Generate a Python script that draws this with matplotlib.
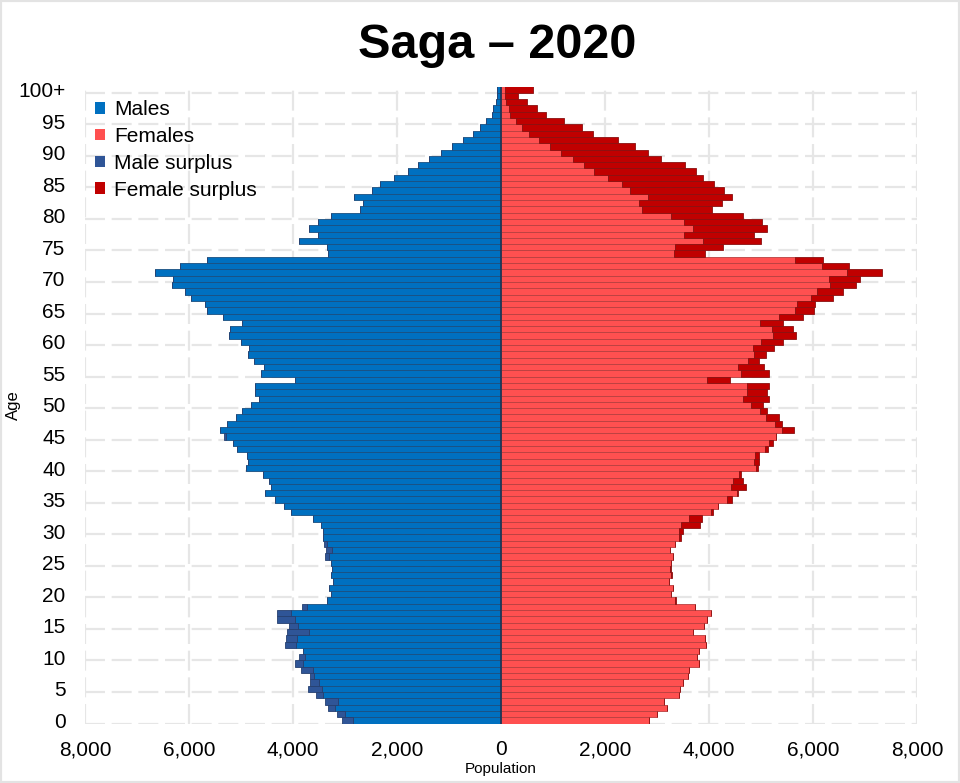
import matplotlib
matplotlib.use("Agg")
import matplotlib.pyplot as plt
from matplotlib.patches import Patch, Rectangle
import numpy as np

plt.rcParams["font.family"] = ["Liberation Sans", "DejaVu Sans"]

# single years of age, 0 .. 100+
ages = list(range(101))
age_labels = [str(a) for a in range(0, 100, 5)] + ["100+"]

males = [
    3051, 3148, 3333, 3385, 3558, 3711, 3667, 3679, 3846, 3968,
    3884, 3801, 4148, 4134, 4109, 4071, 4314, 4314, 3827, 3352,
    3275, 3301, 3224, 3275, 3256, 3269, 3378, 3371, 3398, 3429,
    3417, 3468, 3622, 4045, 4167, 4340, 4538, 4429, 4455, 4583,
    4904, 4871, 4891, 5083, 5160, 5330, 5398, 5263, 5102, 4987,
    4813, 4648, 4725, 4725, 3955, 4615, 4558, 4744, 4871, 4852,
    5000, 5231, 5211, 4981, 5340, 5660, 5692, 5961, 6071, 6327,
    6301, 6654, 6173, 5660, 3321, 3340, 3879, 3525, 3692, 3525,
    3275, 2711, 2648, 2821, 2481, 2327, 2052, 1794, 1602, 1385,
    1160, 937, 725, 533, 404, 288, 179, 148, 102, 71,
    83,
]
females = [
    2846, 2994, 3186, 3141, 3423, 3442, 3506, 3602, 3622, 3814,
    3763, 3801, 3949, 3917, 3699, 3904, 3962, 4032, 3737, 3359,
    3276, 3301, 3231, 3288, 3269, 3269, 3310, 3250, 3340, 3462,
    3506, 3827, 3872, 4083, 4179, 4436, 4564, 4705, 4660, 4622,
    4936, 4955, 4968, 5141, 5237, 5282, 5635, 5410, 5346, 5109,
    5045, 5160, 5109, 5147, 4404, 5147, 5064, 4955, 5096, 5250,
    5417, 5673, 5622, 5417, 5801, 6019, 6038, 6378, 6583, 6821,
    6904, 7333, 6686, 6186, 3929, 4263, 5000, 4865, 5122, 5025,
    4660, 4064, 4256, 4436, 4288, 4096, 3891, 3750, 3544, 3077,
    2833, 2577, 2256, 1763, 1551, 1211, 859, 699, 494, 333,
    621,
]

c_male = "#0070c0"
c_female = "#ff5050"
c_male_sur = "#2f5597"
c_female_sur = "#c00000"

m = np.array(males)
f = np.array(females)
common = np.minimum(m, f)
male_sur = np.clip(m - f, 0, None)
female_sur = np.clip(f - m, 0, None)

fig = plt.figure(figsize=(9.6, 7.83), dpi=100)
ax = fig.add_axes([85 / 960, 1 - 723.5 / 783, 832 / 960, 637 / 783])

# grid
grid_kw = dict(color="#e6e6e6", lw=1.6, ls=(0, (9, 3)), zorder=0)
for gx in range(-8000, 8001, 2000):
    ax.axvline(gx, **grid_kw)
for gy in np.arange(-0.5, 100, 5):
    ax.axhline(gy, **grid_kw)

bar_kw = dict(height=1.0, linewidth=0.6, zorder=2)
ax.barh(ages, -common, color=c_male, edgecolor="#1a4f80", **bar_kw)
ax.barh(ages, -male_sur, left=-common, color=c_male_sur, edgecolor="#253f70", **bar_kw)
ax.barh(ages, common, color=c_female, edgecolor="#b84040", **bar_kw)
ax.barh(ages, female_sur, left=common, color=c_female_sur, edgecolor="#8a1010", **bar_kw)
ax.axvline(0, color="#1f3350", lw=1.2, zorder=3)

ax.set_xlim(-8000, 8000)
ax.set_ylim(-0.5, 100.5)
ax.set_xticks(range(-8000, 8001, 2000))
ax.set_xticklabels([f"{abs(v):,}" for v in range(-8000, 8001, 2000)])
ax.set_yticks(range(0, 101, 5))
ax.set_yticklabels(age_labels)
ax.tick_params(axis="both", length=0, labelsize=15)
ax.tick_params(axis="y", pad=14)
ax.tick_params(axis="x", pad=12)
for s in ax.spines.values():
    s.set_visible(False)

ax.set_xlabel("Population", fontsize=11, labelpad=2)
ax.set_ylabel("Age", fontsize=12)
ax.yaxis.set_label_coords(-0.077, 0.5)

fig.text(497 / 960, 1 - 45 / 783, "Saga \u2013 2020", fontsize=35,
         fontweight="bold", ha="center", va="center")

handles = [
    Patch(facecolor=c_male, label="Males"),
    Patch(facecolor=c_female, label="Females"),
    Patch(facecolor=c_male_sur, label="Male surplus"),
    Patch(facecolor=c_female_sur, label="Female surplus"),
]
fig.legend(handles=handles, loc="upper left",
           bbox_to_anchor=(95 / 960, 1 - 100 / 783), frameon=False,
           fontsize=15, handlelength=0.5, handleheight=0.5,
           handletextpad=0.4, labelspacing=0.38, borderpad=0,
           borderaxespad=0)

# light frame around the whole picture
fig.patches.append(Rectangle((0, 0), 1, 1, transform=fig.transFigure,
                             fill=False, edgecolor="#e3e3e3", lw=3))

fig.savefig("out.png", dpi=100)
